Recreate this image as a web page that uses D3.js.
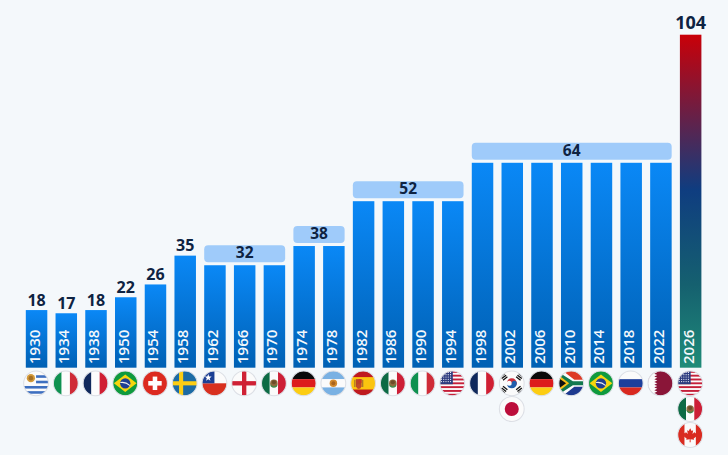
<!DOCTYPE html>
<html>
<head>
<meta charset="utf-8">
<script src="https://cdn.jsdelivr.net/npm/d3@7/dist/d3.min.js"></script>
<style>
  html, body { margin: 0; padding: 0; background: #f4f8fb; }
  svg { display: block; }
  text { font-family: "Open Sans", sans-serif; }
</style>
</head>
<body>
<svg id="chart" width="728" height="455"></svg>
<script>
const years = [1930,1934,1938,1950,1954,1958,1962,1966,1970,1974,1978,1982,1986,1990,1994,1998,2002,2006,2010,2014,2018,2022,2026];
const teams = [18,17,18,22,26,35,32,32,32,38,38,52,52,52,52,64,64,64,64,64,64,64,104];
const hosts = [["uy"],["it"],["fr"],["br"],["ch"],["se"],["cl"],["en"],["mx"],["de"],["ar"],["es"],["mx"],["it"],["us"],["fr"],["kr","jp"],["de"],["za"],["br"],["ru"],["qa"],["us","mx","ca"]];

const svg = d3.select("#chart");
const defs = svg.append("defs");

const x = d3.scaleBand().domain(years).range([21.7, 705.5]).paddingInner(0.277).paddingOuter(0.138);
const y = d3.scaleLinear().domain([0, 104]).range([367.7, 34.7]);
const rowY = d3.scaleOrdinal().domain([0, 1, 2]).range([383.3, 409, 435]);
const FLAG_R = 12.4;

// Vertical fills for the standard bars and the expanded 2026 tournament
const addGradient = (id, stops) => {
  const g = defs.append("linearGradient").attr("id", id).attr("x1", 0).attr("y1", 0).attr("x2", 0).attr("y2", 1);
  stops.forEach(([o, c]) => g.append("stop").attr("offset", o).attr("stop-color", c));
};
addGradient("barFill", [[0, "#0a88f6"], [1, "#0060b3"]]);
addGradient("bar2026", [[0, "#c90008"], [0.465, "#0f3d80"], [0.75, "#15606f"], [1, "#1f8b78"]]);
defs.append("clipPath").attr("id", "flagClip").append("circle").attr("r", 12);

// Bars
svg.append("g").selectAll("rect").data(years).join("rect")
  .attr("x", d => x(d))
  .attr("width", x.bandwidth())
  .attr("y", (d, i) => y(teams[i]))
  .attr("height", (d, i) => y(0) - y(teams[i]))
  .attr("fill", d => d === 2026 ? "url(#bar2026)" : "url(#barFill)");

// Year labels inside the bars
svg.append("g").selectAll("text").data(years).join("text")
  .attr("transform", d => `translate(${x(d) + x.bandwidth() / 2 + 3},364) rotate(-90)`)
  .attr("fill", "#f4f8fb").attr("font-size", 15).attr("font-weight", 600)
  .text(d => d);

// Runs of consecutive editions with the same field share one pill
const runs = d3.groups(years.map((yr, i) => ({ yr, v: teams[i], i })), d => {
  let k = d.i;
  while (k > 0 && teams[k - 1] === teams[k]) k--;
  return k;
}).map(([, items]) => items);

const labelStyle = (s, size) => s.attr("fill", "#0e2342").attr("font-size", size).attr("font-weight", 700).attr("text-anchor", "middle");

runs.forEach(items => {
  const first = items[0], last = items[items.length - 1];
  const v = first.v;
  if (items.length > 1) {
    const x0 = x(first.yr), x1 = x(last.yr) + x.bandwidth();
    svg.append("rect").attr("x", x0).attr("width", x1 - x0)
      .attr("y", y(v) - 20).attr("height", 17).attr("rx", 4)
      .attr("fill", "#9fcbfa");
    svg.append("text").call(labelStyle, 15.5).attr("x", (x0 + x1) / 2).attr("y", y(v) - 7).text(v);
  } else if (v > 100) {
    svg.append("text").call(labelStyle, 18).attr("x", x(first.yr) + x.bandwidth() / 2).attr("y", y(v) - 5.4).text(v);
  } else {
    svg.append("text").call(labelStyle, 16).attr("x", x(first.yr) + x.bandwidth() / 2).attr("y", y(v) - 4.3).text(v);
  }
});

// Small helpers for building the round flags
const R = (g, px, py, w, h, f) => g.append("rect").attr("x", px).attr("y", py).attr("width", w).attr("height", h).attr("fill", f);
const C = (g, cx, cy, r, f) => g.append("circle").attr("cx", cx).attr("cy", cy).attr("r", r).attr("fill", f);
const P = (g, pts, f) => g.append("polygon").attr("points", pts).attr("fill", f);
const PATH = (g, d, f) => g.append("path").attr("d", d).attr("fill", f);
const bands3V = (g, a, b, c) => { R(g, -12, -12, 8, 24, a); R(g, -4, -12, 8, 24, b); R(g, 4, -12, 8, 24, c); };
const bands3H = (g, a, b, c) => { R(g, -12, -12, 24, 8, a); R(g, -12, -4, 24, 8, b); R(g, -12, 4, 24, 8, c); };

const flags = {
  uy(g) {
    R(g, -12, -12, 24, 24, "#fbfbfb");
    R(g, 0, -7.8, 12, 2.5, "#3d6fc0");
    R(g, 0, -2.5, 12, 2.5, "#3d6fc0");
    R(g, -12, 2.6, 24, 2.5, "#3d6fc0");
    R(g, -12, 7.6, 24, 2.5, "#3d6fc0");
    C(g, -5, -5, 4, "#d39a3a");
    C(g, -5, -5, 2.2, "#a56f24");
  },
  it(g) { bands3V(g, "#0f9150", "#fcfcfc", "#cf2b37"); },
  fr(g) { bands3V(g, "#10295c", "#fcfcfc", "#d01f33"); },
  br(g) {
    R(g, -12, -12, 24, 24, "#0f9a3e");
    P(g, "-11,0 0,-8.5 11,0 0,8.5", "#f7d60e");
    C(g, 0, 0, 5, "#1e3f93");
    PATH(g, "M-4.6,-1.2 Q0,-2.4 4.6,1.6 L4.4,2.6 Q0,-1.2 -4.9,-.2Z", "#f0f0f0");
  },
  ch(g) {
    R(g, -12, -12, 24, 24, "#dc2a20");
    R(g, -6.5, -2.2, 13, 4.4, "#fff");
    R(g, -2.2, -6.5, 4.4, 13, "#fff");
  },
  se(g) {
    R(g, -12, -12, 24, 24, "#1b6ba5");
    R(g, -12, -2, 24, 4, "#fbcd14");
    R(g, -5.5, -12, 4, 24, "#fbcd14");
  },
  cl(g) {
    R(g, -12, -12, 24, 12, "#fbfbfb");
    R(g, -12, 0, 24, 12, "#d8301f");
    R(g, -12, -12, 12, 12, "#1c3f94");
    P(g, "-6,-9 -5.1,-6.5 -2.7,-6.5 -4.6,-4.9 -3.9,-2.5 -6,-4 -8.1,-2.5 -7.4,-4.9 -9.3,-6.5 -6.9,-6.5", "#fff");
  },
  en(g) {
    R(g, -12, -12, 24, 24, "#fbfbfb");
    R(g, -12, -2.1, 24, 4.2, "#cf2135");
    R(g, -2.1, -12, 4.2, 24, "#cf2135");
  },
  mx(g) {
    bands3V(g, "#0d6b45", "#fbfbfb", "#cd1f36");
    C(g, 0, 0, 3.6, "#8c6a3c");
    C(g, 0, -1, 2, "#6d4c28");
    PATH(g, "M-3.6,1 Q0,5 3.6,1 L3,3 Q0,5.5 -3,3Z", "#3f8a4a");
  },
  de(g) { bands3H(g, "#0a0a0a", "#dd1c1c", "#fccd12"); },
  ar(g) {
    bands3H(g, "#79b1e3", "#fbfbfb", "#79b1e3");
    C(g, 0, 0, 3.6, "#d3892b");
    C(g, 0, 0, 1.9, "#a9641d");
  },
  es(g) {
    R(g, -12, -12, 24, 24, "#bf1a1f");
    R(g, -12, -6, 24, 12, "#fbc50f");
    R(g, -7, -4, 5.5, 7.5, "#b8442a");
    R(g, -4.3, -4, 2.8, 3.6, "#c9362a");
    C(g, -4.2, 3, 2.4, "#c14a2b");
    R(g, -8.6, -3.4, 1.2, 7, "#a8742c");
    R(g, -1, -3.4, 1.2, 7, "#a8742c");
  },
  us(g) {
    R(g, -12, -12, 24, 24, "#fbfbfb");
    d3.range(0, 13, 2).forEach(k => R(g, -12, -12 + k * 24 / 13, 24, 24 / 13, "#c5203a"));
    R(g, -12, -12, 12.5, 12.9, "#2e3c7f");
    d3.range(-10.5, 0, 2.2).forEach(cx => d3.range(-10.5, 0.5, 2.2).forEach(cy => C(g, cx, cy, .6, "#eef0f7")));
  },
  kr(g) {
    R(g, -12, -12, 24, 24, "#fbfbfb");
    PATH(g, "M-4.9,0 A4.9,4.9 0 0 1 4.9,0 A2.45,2.45 0 0 1 0,0 A2.45,2.45 0 0 0 -4.9,0Z", "#cd2e3a");
    PATH(g, "M-4.9,0 A2.45,2.45 0 0 0 0,0 A2.45,2.45 0 0 1 4.9,0 A4.9,4.9 0 0 1 -4.9,0Z", "#1f5dab");
    [[-7.6, -6.2, -38], [7.6, -6.2, 38], [-7.6, 6.2, 38], [7.6, 6.2, -38]].forEach(([tx, ty, a]) => {
      const t = g.append("g").attr("transform", `translate(${tx},${ty}) rotate(${a})`);
      [-2, 0, 2].forEach(o => R(t, -2.7, o - .6, 5.4, 1.2, "#111"));
    });
  },
  jp(g) {
    R(g, -12, -12, 24, 24, "#fbfbfb");
    C(g, 0, 0, 6.8, "#bc0d3a");
  },
  za(g) {
    R(g, -12, -12, 24, 12, "#dd3a26");
    R(g, -12, 0, 24, 12, "#1d3a8f");
    PATH(g, "M-12,-12 L-8,-12 L3,-3.4 L12,-3.4 L12,3.4 L3,3.4 L-8,12 L-12,12Z", "#fbfbfb");
    PATH(g, "M-12,-10 L-11,-10 L1.6,-2 L12,-2 L12,2 L1.6,2 L-11,10 L-12,10Z", "#12794f");
    P(g, "-12,-7.8 -2,0 -12,7.8", "#f9bf16");
    P(g, "-12,-5 -5,0 -12,5", "#111");
  },
  ru(g) { bands3H(g, "#fbfbfb", "#1d3f9b", "#d9291f"); },
  qa(g) {
    R(g, -12, -12, 24, 24, "#8a1538");
    R(g, -12, -12, 6, 24, "#fbfbfb");
    const teeth = d3.range(9).flatMap(k => {
      const top = -12 + k * 24 / 9;
      return [[-6, top], [-3, top + 24 / 18]];
    });
    P(g, [[-7, -12], ...teeth, [-6, 12], [-7, 12]].map(p => p.join(",")).join(" "), "#fbfbfb");
  },
  ca(g) {
    R(g, -12, -12, 24, 24, "#fbfbfb");
    R(g, -12, -12, 6.5, 24, "#d92b20");
    R(g, 5.5, -12, 6.5, 24, "#d92b20");
    P(g, "0,-6.5 1.4,-3.8 2.9,-4.6 2.3,-1 4.2,-2.9 4.7,-1.6 6.4,-1.9 5.8,.4 6.6,.9 3.4,3.5 3.8,4.6 .4,4.2 .5,7 -.5,7 -.4,4.2 -3.8,4.6 -3.4,3.5 -6.6,.9 -5.8,.4 -6.4,-1.9 -4.7,-1.6 -4.2,-2.9 -2.3,-1 -2.9,-4.6 -1.4,-3.8", "#d92b20");
  }
};

// Host flags, stacked below each bar when a tournament has several hosts
const flagRows = years.flatMap((yr, i) => hosts[i].map((code, row) => ({ yr, code, row })));
const flagG = svg.append("g").selectAll("g").data(flagRows).join("g")
  .attr("transform", d => `translate(${x(d.yr) + x.bandwidth() / 2 - 0.5},${rowY(d.row)}) scale(${FLAG_R / 12})`);
flagG.each(function (d) {
  const g = d3.select(this);
  const art = g.append("g").attr("clip-path", "url(#flagClip)");
  flags[d.code](art);
  g.append("circle").attr("r", 12).attr("fill", "none").attr("stroke", "#dcdfe5").attr("stroke-width", 1);
});
</script>
</body>
</html>
